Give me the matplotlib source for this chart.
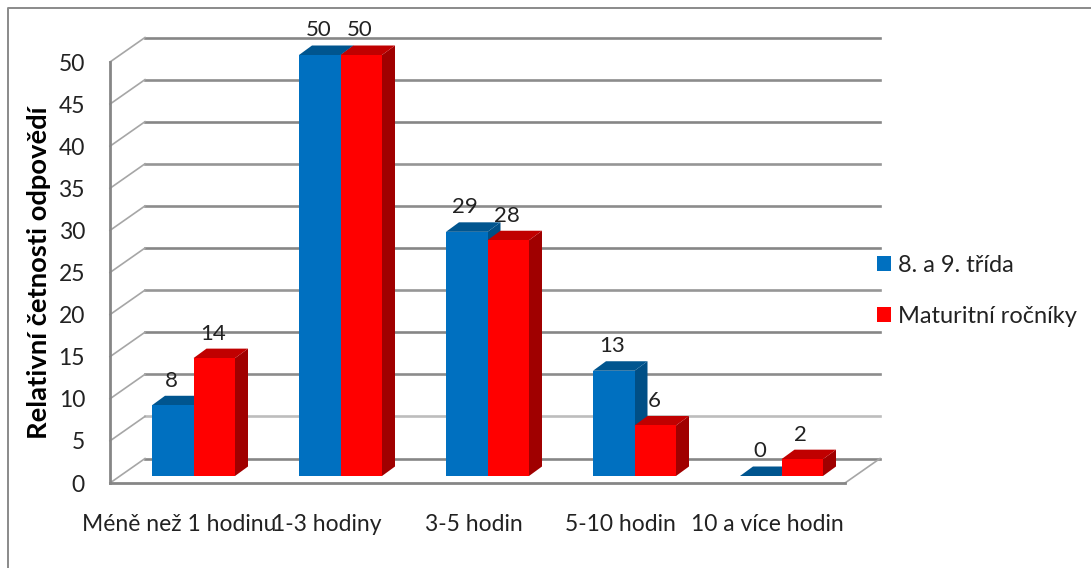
#!/usr/bin/env python
# 3d looking bar chart, the depth is faked with polygons on a normal axes

import numpy as np
import matplotlib
matplotlib.use('Agg')
import matplotlib.pyplot as plt
from matplotlib.patches import Polygon

categories = ['Méně než 1 hodinu', '1-3 hodiny', '3-5 hodin', '5-10 hodin', '10 a více hodin']
series_names = ['8. a 9. třída', 'Maturitní ročníky']
blue_values = [8.4, 50, 29, 12.5, 0]
red_values = [14, 50, 28, 6, 2]
blue_labels = ['8', '50', '29', '13', '0']
red_labels = ['14', '50', '28', '6', '2']
yticks = [0, 5, 10, 15, 20, 25, 30, 35, 40, 45, 50]
grid_colors = ['#868686', '#bdbdbd', '#8c8c8c', '#868686', '#969696', '#868686',
               '#8c8c8c', '#969696', '#868686', '#8c8c8c', '#868686']

W, H = 1091, 568
plt.rcParams['font.family'] = ['Lato', 'DejaVu Sans']

fig = plt.figure(figsize=(W/100, H/100), dpi=100)

# axes is the front plane of the 3d box, in pixels
left, right, top, bottom = 110, 845, 62, 483
ax = fig.add_axes([left/W, 1-bottom/H, (right-left)/W, (bottom-top)/H])
ax.set_ylim(0, 50)
px_y = 50.0/(bottom-top)    # data per pixel
px_x = 1/147.0
ax.set_xlim((left-193.5)*px_x, (right-193.5)*px_x)

# outer chart border
fig.add_artist(plt.Line2D([8/W, 8/W, W/W], [0, 1-8/H, 1-8/H], color='#8a8a8a', lw=1.4))

# wall offset and bar depth
wall_dx, wall_dy = 35*px_x, 24.5*px_y
depth_dx, depth_dy = 13*px_x, 9.5*px_y
floor = 7*px_y
barw = 41.5*px_x
x = np.arange(len(categories))
xl, xr = ax.get_xlim()

for v, c in zip(yticks, grid_colors):
    ax.plot([xl+wall_dx, xr+wall_dx], [v+wall_dy, v+wall_dy], color=c, lw=1.9, clip_on=False, zorder=1)
    ax.plot([xl, xl+wall_dx], [v, v+wall_dy], color='#a6a6a6', lw=1.2, clip_on=False, zorder=1)
ax.plot([xr, xr+wall_dx], [0, wall_dy], color='#a6a6a6', lw=1.2, clip_on=False, zorder=1)


def draw_bars(xs, values, face, topc, side):
    for xi, v in zip(xs, values):
        x0, x1 = xi, xi+barw
        y1 = floor+v
        ax.add_patch(Polygon([(x1, floor), (x1+depth_dx, floor+depth_dy), (x1+depth_dx, y1+depth_dy), (x1, y1)],
                             fc=side, ec='none', clip_on=False, zorder=3))
        ax.add_patch(Polygon([(x0, y1), (x0+depth_dx, y1+depth_dy), (x1+depth_dx, y1+depth_dy), (x1, y1)],
                             fc=topc, ec='none', clip_on=False, zorder=3))
    return ax.bar(xs, values, barw, bottom=floor, align='edge', color=face, zorder=3, clip_on=False)


b1 = draw_bars(x-barw, blue_values, '#0070c0', '#00558f', '#004f86')
b2 = draw_bars(x, red_values, '#ff0000', '#c00000', '#a00000')

# data labels, sit above the bar top
for xs, values, labels in [(x-barw/2, blue_values, blue_labels), (x+barw/2, red_values, red_labels)]:
    for xi, v, s in zip(xs, values, labels):
        ax.annotate(s, (xi, v+floor), xytext=(-1, 17.7), textcoords='offset points',
                    ha='center', va='center', fontsize=16, color='#222222', zorder=5, annotation_clip=False)

for s in ['top', 'right']:
    ax.spines[s].set_visible(False)
for s in ['left', 'bottom']:
    ax.spines[s].set_color('#868686')
    ax.spines[s].set_linewidth(2)
ax.patch.set_alpha(0)

ax.set_yticks(yticks)
ax.set_xticks(x-14*px_x)
ax.set_xticklabels(categories)
ax.tick_params(axis='y', length=0, pad=18, labelsize=16.5, labelcolor='#222222')
ax.tick_params(axis='x', length=0, pad=22, labelsize=16.5, labelcolor='#222222')

ax.set_ylabel('Relativní četnosti odpovědí', fontsize=19.7, fontweight='bold', color='black')
ax.yaxis.set_label_coords((51-left)/(right-left), (bottom-273)/(bottom-top))

fig.legend([b1[0], b2[0]], series_names, loc='upper left', bbox_to_anchor=(877/W, 1-255/H), frameon=False,
           fontsize=17, handlelength=0.6, handleheight=0.6, handletextpad=0.3, labelspacing=1.25,
           labelcolor='#222222', borderpad=0, borderaxespad=0)

plt.savefig('out.png', dpi=100)
